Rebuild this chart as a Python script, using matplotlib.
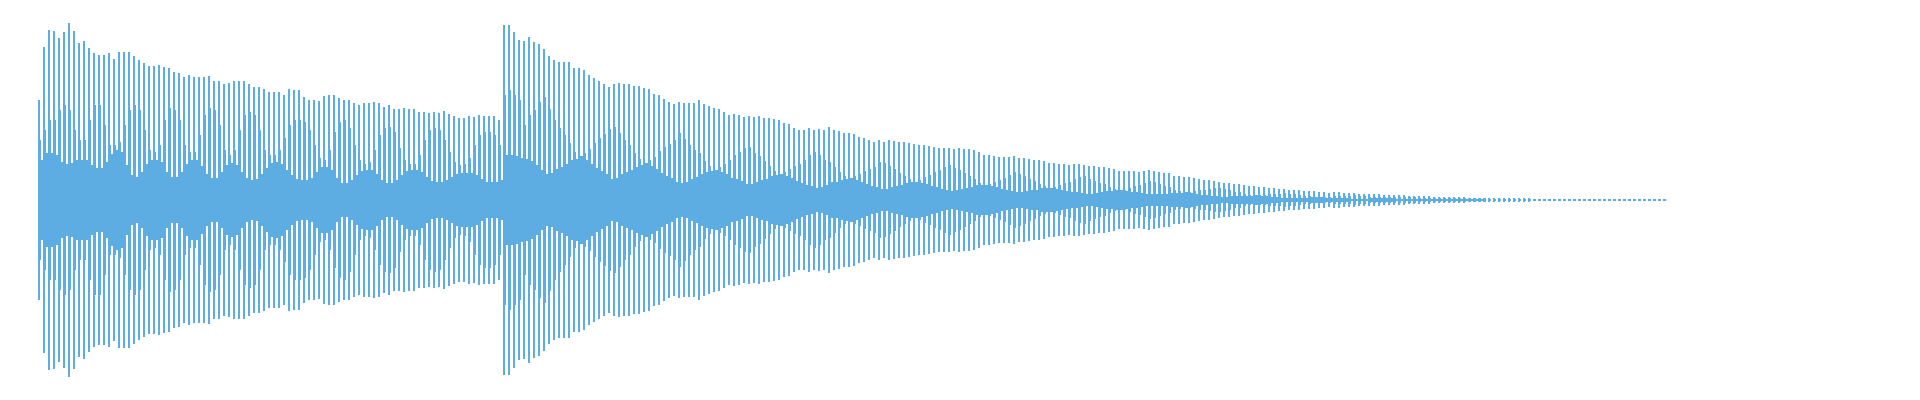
# ==========================================
# Waveform of two plucked notes (low E string)
# ==========================================

import matplotlib
matplotlib.use("Agg")
import matplotlib.pyplot as plt
import numpy as np

# ==========================================
# Data (amplitudes, one value per period)
# amplitude units: 1 unit ~ 1 px, full scale 200
# ==========================================

f0 = 81.0                 # fundamental, Hz (one stroke group per period)
onsets = [0.0, 1.14815]   # note start times, s

# note 1
peak_1 = [
    100, 153, 170, 169, 162, 168, 177, 169, 157, 159,
    152, 147, 145, 145, 147, 141, 148, 148, 148, 144,
    140, 137, 134, 134, 135, 133, 132, 128, 127, 123,
    125, 123, 123, 123, 124, 119, 119, 116, 117, 119,
    119, 119, 116, 113, 113, 111, 108, 108, 108, 105,
    111, 110, 110, 103, 100, 100, 99, 104, 105, 105,
    102, 100, 100, 97, 95, 97, 97, 98, 97, 93,
    95, 91, 91, 92, 91, 91, 88, 88, 87, 88,
    87, 89, 86, 84, 82, 82, 84, 83, 85, 84,
    84, 84, 80,
]
inner_1 = [
    60, 70, 80, 80, 90, 95, 90, 70, 60, 60,
    80, 95, 95, 75, 55, 55, 58, 75, 90, 95,
    90, 70, 50, 48, 55, 80, 92, 90, 80, 55,
    48, 48, 65, 85, 92, 90, 75, 50, 45, 50,
    70, 85, 88, 85, 70, 50, 45, 45, 50, 62,
    75, 80, 80, 78, 70, 55, 42, 40, 50, 68,
    78, 80, 72, 55, 40, 36, 38, 50, 65, 72,
    73, 68, 52, 40, 36, 36, 45, 60, 70, 72,
    70, 60, 48, 38, 35, 36, 42, 55, 65, 68,
    68, 65, 55,
]
core_1 = [
    40, 47, 47, 45, 38, 36, 37, 40, 40, 40,
    35, 32, 32, 38, 46, 50, 48, 35, 25, 23,
    28, 36, 40, 40, 38, 28, 23, 23, 28, 36,
    40, 40, 34, 26, 22, 22, 28, 35, 37, 35,
    28, 22, 20, 21, 26, 32, 37, 38, 36, 30,
    25, 21, 20, 20, 22, 28, 33, 33, 30, 22,
    17, 17, 20, 25, 29, 30, 30, 26, 20, 17,
    17, 20, 25, 29, 30, 30, 28, 23, 19, 18,
    18, 20, 23, 26, 27, 27, 27, 25, 21, 18,
    18, 18, 20,
]

# note 2
peak_2 = [
    175, 175, 168, 160, 159, 163, 158, 156, 151, 144,
    140, 138, 138, 138, 132, 132, 130, 125, 122, 119,
    116, 113, 116, 117, 116, 116, 114, 114, 112, 111,
    106, 105, 101, 98, 96, 98, 97, 97, 97, 100,
    96, 94, 92, 91, 88, 85, 86, 85, 83, 84,
    83, 84, 82, 82, 81, 80, 77, 76, 72, 70,
    70, 72, 70, 71, 70, 73, 70, 69, 67, 67,
    66, 63, 62, 60, 58, 60, 58, 60, 59, 58,
    58, 57, 56, 55, 55, 54, 53, 52, 52, 52,
    51, 52, 51, 51, 50, 48, 45, 45, 44, 43,
    43, 43, 44, 42, 42, 41, 40, 40, 39, 37,
    37, 36, 36, 35, 36, 36, 35, 34, 34, 33,
    33, 32, 31, 29, 29, 29, 29, 28, 29, 30,
    29, 28, 27, 27, 24, 24, 23, 23, 22, 21,
    20, 20, 19, 18, 17, 17, 16, 16, 15, 14,
    14, 13, 13, 12, 12, 11, 11, 10, 10, 10,
    9, 9, 9, 8, 8, 7, 8, 8, 7, 7,
    7, 6, 6, 6, 6, 6, 5, 5, 5, 5,
    5, 4, 4, 4, 4, 4, 3, 3, 3, 3,
    3, 3, 3, 2, 2, 2, 2, 2, 2, 2,
    2, 2, 2, 2, 2, 2, 1, 1, 1, 1,
    1, 1, 1, 1, 1, 1, 1, 1, 1, 1,
    1, 1, 1, 1, 1, 1, 1, 1, 1, 1, 1, 1, 1,
]
inner_2 = [
    105, 110, 105, 100, 75, 85, 90, 98, 103, 91,
    80, 72, 65, 57, 48, 44, 47, 51, 57, 62,
    66, 71, 73, 67, 60, 55, 47, 41, 37, 40,
    43, 49, 53, 56, 60, 67, 61, 55, 50, 47,
    39, 34, 30, 33, 36, 40, 45, 48, 52, 53,
    47, 44, 39, 34, 29, 26, 28, 31, 34, 36,
    40, 45, 48, 45, 40, 38, 33, 28, 24, 22,
    24, 26, 29, 31, 33, 38, 37, 34, 31, 27,
    24, 21, 18, 20, 23, 25, 28, 30, 33, 35,
    32, 30, 27, 24, 21, 17, 15, 16, 18, 20,
    22, 25, 28, 26, 24, 21, 19, 16, 14, 12,
    13, 15, 17, 18, 21, 23, 24, 21, 19, 17,
    16, 13, 11, 10, 10, 12, 14, 15, 17, 19,
    18, 16, 14, 13, 10, 9, 8, 8, 9, 10,
    10, 11, 12, 12, 11, 10, 8, 8, 6, 5,
    5, 5, 5, 6, 6, 6, 7, 6, 6, 5,
    4, 4, 3, 3, 3, 3, 4, 4, 4, 4,
    5, 4, 4, 3, 3, 3, 3, 3, 3, 3,
    3, 3, 3, 2, 2, 2, 2, 2, 2, 2,
    2, 2, 2, 2, 2, 2, 2, 1, 1, 1,
    1, 1, 1, 1, 1, 1, 1, 1, 1, 1,
    1, 1, 1, 1, 1, 1, 1, 1, 1, 1,
    1, 1, 1, 1, 1, 1, 1, 1, 1, 1, 1, 1, 1,
]
core_2 = [
    45, 45, 44, 42, 41, 39, 35, 30, 26, 27,
    31, 33, 36, 40, 41, 44, 40, 36, 32, 29,
    26, 21, 22, 26, 28, 30, 33, 35, 37, 34,
    31, 27, 24, 22, 18, 17, 18, 21, 23, 26,
    28, 29, 30, 28, 26, 22, 21, 19, 16, 16,
    18, 20, 21, 24, 25, 26, 24, 22, 19, 17,
    15, 14, 12, 13, 15, 18, 18, 20, 21, 22,
    20, 18, 16, 14, 13, 11, 11, 13, 14, 15,
    17, 18, 18, 17, 16, 14, 13, 11, 10, 9,
    10, 11, 12, 13, 15, 15, 15, 14, 13, 11,
    10, 9, 8, 8, 9, 10, 10, 12, 12, 12,
    11, 10, 9, 8, 8, 7, 6, 6, 7, 8,
    9, 9, 10, 10, 9, 8, 8, 7, 6, 6,
    6, 6, 6, 7, 7, 7, 8, 7, 6, 5,
    5, 4, 4, 3, 3, 4, 4, 4, 4, 4,
    5, 4, 4, 3, 3, 2, 2, 2, 2, 2,
    2, 3, 3, 3, 2, 2, 2, 2, 2, 1,
    1, 1, 1, 2, 2, 2, 2, 2, 1, 1,
    1, 1, 1, 1, 1, 1, 1, 1, 1, 1,
    1, 1, 1, 1, 1, 1, 0, 0, 0, 0,
    0, 0, 0, 0, 0, 0, 0, 0, 0, 0,
    0, 0, 0, 0, 0, 0, 0, 0, 0, 0,
    0, 0, 0, 0, 0, 0, 0, 0, 0, 0, 0, 0, 0,
]

notes = [(peak_1, inner_1, core_1), (peak_2, inner_2, core_2)]

# ==========================================
# Figure
# ==========================================

color = "#5DADE2"
px_per_s = 405.0          # horizontal scale of the picture
px = 1.0 / px_per_s       # one pixel in seconds
lw1 = 0.72                # 1 px in points at dpi 100

fig = plt.figure(figsize=(19.2, 4), dpi=100)
ax = fig.add_axes([0, 0, 1, 1])

for t0, (peak, inner, core) in zip(onsets, notes):
    t = t0 + np.arange(len(peak)) / f0
    peak = np.array(peak)
    inner = np.array(inner)
    core = np.array(core)
    # main spike of each period (two px wide)
    ax.vlines(t, -peak, peak, colors=color, linewidth=2 * lw1, snap=False)
    # next sample in the period
    ax.vlines(t + 1.5 * px, -inner, inner, colors=color, linewidth=lw1, snap=False)
    # rest of the period stays near zero
    keep = core > 0
    ax.vlines(t[keep] + 3 * px, -core[keep], core[keep], colors=color,
              linewidth=2 * lw1, snap=False)

ax.set_xlim(-39 * px, (1920 - 39) * px)
ax.set_ylim(-200, 200)
ax.axis("off")

fig.savefig("out.png", dpi=100, facecolor="white")
